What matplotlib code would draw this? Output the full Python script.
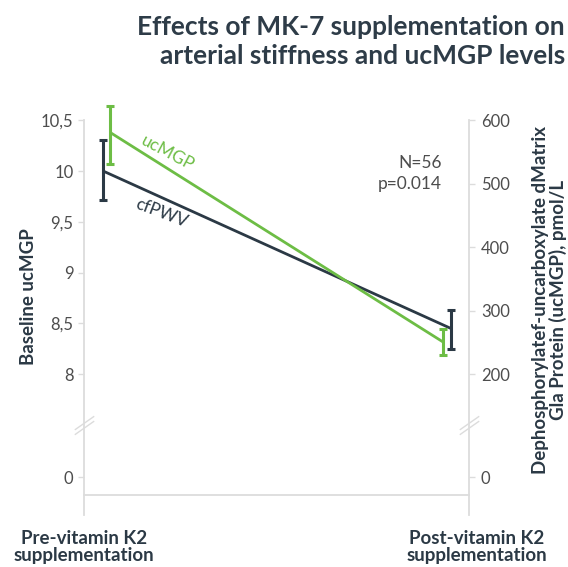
import numpy as np
import matplotlib
matplotlib.use("Agg")
import matplotlib.pyplot as plt
from matplotlib.path import Path
from matplotlib import transforms

plt.rcParams['font.family'] = ['Lato', 'DejaVu Sans']

# ---------------- data ----------------
categories = ["Pre-vitamin K2\nsupplementation", "Post-vitamin K2\nsupplementation"]
cfpwv_mean = [10.0, 8.45]
cfpwv_low = [9.71, 8.245]
cfpwv_high = [10.31, 8.63]
ucmgp_mean = [581, 251]
ucmgp_low = [531, 230]
ucmgp_high = [622, 271]
left_ticks = [0, 8, 8.5, 9, 9.5, 10, 10.5]
left_ticklabels = ["0", "8", "8,5", "9", "9,5", "10", "10,5"]
right_ticks = [0, 200, 300, 400, 500, 600]
right_ticklabels = ["0", "200", "300", "400", "500", "600"]
title_lines = ["Effects of MK-7 supplementation on", "arterial stiffness and ucMGP levels"]
left_label = "Baseline ucMGP"
right_label = "Dephosphorylatef-uncarboxylate dMatrix\nGla Protein (ucMGP), pmol/L"
stats_text = "N=56\np=0.014"

# ---------------- style ----------------
GREEN = "#6dbd45"
DARK = "#2b3945"
TITLE_C = "#2e3c48"
TICK_C = "#4d4d4d"
SPINE_C = "#dcdcdc"

# broken-axis scales (scale space shared by both y axes)
BREAK_S = 7.5
CL = 0.0683          # compression of left axis below break
R_BREAK = 120.0
CR = 0.512 / 120.0   # compression of right axis below break


def l_fwd(v):
    v = np.asarray(v, dtype=float)
    return np.where(v >= BREAK_S, v, BREAK_S - (BREAK_S - v) * CL)


def l_inv(s):
    s = np.asarray(s, dtype=float)
    return np.where(s >= BREAK_S, s, BREAK_S - (BREAK_S - s) / CL)


def r_fwd(r):
    r = np.asarray(r, dtype=float)
    return np.where(r >= R_BREAK, 8 + (r - 200) / 160.0, BREAK_S - (R_BREAK - r) * CR)


def r_inv(s):
    s = np.asarray(s, dtype=float)
    return np.where(s >= BREAK_S, 200 + (s - 8) * 160.0, R_BREAK - (BREAK_S - s) / CR)


S_BOTTOM, S_TOP = 6.614, 10.502
S_BASELINE = 6.811

W, H = 568, 567
fig = plt.figure(figsize=(W / 100, H / 100), dpi=100)
ax = fig.add_axes([84 / W, (H - 515) / H, (469 - 84) / W, (515 - 120) / H])
ax.set_yscale('function', functions=(l_fwd, l_inv))
ax2 = ax.twinx()
ax2.set_yscale('function', functions=(r_fwd, r_inv))

ax.set_ylim(float(l_inv(S_BOTTOM)), float(l_inv(S_TOP)))
ax2.set_ylim(float(r_inv(S_BOTTOM)), float(r_inv(S_TOP)))
ax.set_xlim(-0.066, 1.065)

x = np.arange(len(categories))
cf_off = np.array([-0.010, 0.012])
uc_off = np.array([0.010, -0.012])

# cfPWV (left axis)
ax.plot(x + cf_off, cfpwv_mean, color=DARK, lw=2.0, solid_capstyle='butt', zorder=3)
ax.errorbar(x + cf_off, cfpwv_mean,
            yerr=[np.array(cfpwv_mean) - np.array(cfpwv_low), np.array(cfpwv_high) - np.array(cfpwv_mean)],
            fmt='none', ecolor=DARK, elinewidth=2.2, capsize=3.2, capthick=2.2, zorder=4, clip_on=False)

# ucMGP (right axis)
ax2.plot(x + uc_off, ucmgp_mean, color=GREEN, lw=2.0, solid_capstyle='butt', zorder=3)
ax2.errorbar(x + uc_off, ucmgp_mean,
             yerr=[np.array(ucmgp_mean) - np.array(ucmgp_low), np.array(ucmgp_high) - np.array(ucmgp_mean)],
             fmt='none', ecolor=GREEN, elinewidth=2.2, capsize=3.2, capthick=2.2, zorder=4, clip_on=False)

# spines / ticks
for a in (ax, ax2):
    for side in ('top', 'bottom'):
        a.spines[side].set_visible(False)
    a.spines['left'].set_color(SPINE_C)
    a.spines['right'].set_color(SPINE_C)
    a.spines['left'].set_linewidth(1.3)
    a.spines['right'].set_linewidth(1.3)
    a.set_xticks([])
ax.spines['right'].set_visible(False)
ax2.spines['left'].set_visible(False)

ax.set_yticks(left_ticks)
ax.set_yticklabels(left_ticklabels)
ax.yaxis.set_minor_locator(matplotlib.ticker.NullLocator())
ax.tick_params(axis='y', length=4.5, width=1, color=SPINE_C, pad=3, labelsize=12, labelcolor=TICK_C)
ax2.set_yticks(right_ticks)
ax2.set_yticklabels(right_ticklabels)
ax2.yaxis.set_minor_locator(matplotlib.ticker.NullLocator())
ax2.tick_params(axis='y', length=4.5, width=1, color=SPINE_C, pad=4, labelsize=12, labelcolor=TICK_C)

# base line
ax.plot([0, 1], [(S_BASELINE - S_BOTTOM) / (S_TOP - S_BOTTOM)] * 2, transform=ax.transAxes,
        color=SPINE_C, lw=1.3, clip_on=False)

# break marks
brk = Path([(-1, -0.95), (1, 0.45), (-1, -0.45), (1, 0.95)],
           [Path.MOVETO, Path.LINETO, Path.MOVETO, Path.LINETO])
btrans = transforms.blended_transform_factory(ax.transAxes, ax.transData)
ax.plot([0, 1], [BREAK_S, BREAK_S], transform=btrans, linestyle='none', marker=brk,
        markersize=14, markeredgewidth=1.0, markeredgecolor=SPINE_C, markerfacecolor='none', clip_on=False)

# axis labels
ax.set_ylabel(left_label, fontsize=13.5, fontweight='bold', color=DARK, ha='center', va='center')
ax.yaxis.set_label_coords(-0.143, 0.554)
ax2.set_ylabel(right_label, fontsize=13.5, fontweight='bold', color=DARK, ha='center', va='center',
               rotation=90, linespacing=0.98)
ax2.yaxis.set_label_coords(1.21, 0.544)

# category labels
for xi, lab in zip([0.0, 1.02], categories):
    ax.text(xi, -0.038, lab, transform=ax.transAxes, ha='center', va='top', fontsize=13.5,
            fontweight='bold', color=DARK, linespacing=0.98)

# series annotations
ax.text(0.18, 10.177, "ucMGP", color=GREEN, fontsize=12.5, rotation=-28, ha='center', va='center')
ax.text(0.163, 9.587, "cfPWV", color=DARK, fontsize=12.5, rotation=-21, ha='center', va='center')
ax.text(0.985, 9.975, stats_text, color=TICK_C, fontsize=12.5, ha='right', va='center',
        multialignment='right', linespacing=1.4)

# title
fig.text(565 / W, 1 - 35 / H, title_lines[0], ha='right', va='baseline', fontsize=19,
         fontweight='bold', color=TITLE_C)
fig.text(565 / W, 1 - 64 / H, title_lines[1], ha='right', va='baseline', fontsize=19,
         fontweight='bold', color=TITLE_C)

fig.savefig("out.png", dpi=100)
